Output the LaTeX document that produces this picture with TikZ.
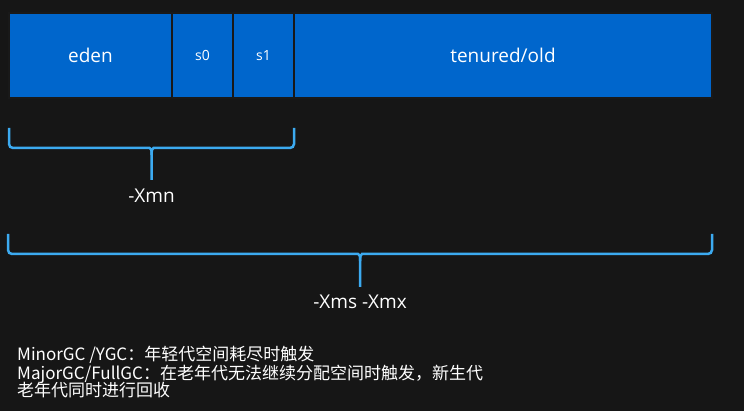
\documentclass[tikz,border=0pt]{standalone}
\usepackage{fontspec}
\setmainfont{Open Sans}
\newfontfamily\cjk{Noto Sans CJK SC}
\definecolor{boardbg}{RGB}{22, 22, 22}
\definecolor{heapblue}{RGB}{0, 102, 204}
\definecolor{braceblue}{RGB}{60, 170, 240}
\usetikzlibrary{positioning, calc}

\begin{document}
\begin{tikzpicture}[
        x=1pt, y=-1pt,
        seg/.style={rectangle, draw=black!90, line width=2pt, fill=heapblue, text=white, minimum height=85pt, inner sep=0pt, outer sep=0pt, font=\fontsize{19}{22}\selectfont},
        brace/.style={braceblue, line width=2.5pt, rounded corners=4pt},
        flaglabel/.style={text=white, inner sep=0pt, font=\fontsize{19}{22}\selectfont}
    ]
        \fill[boardbg] (0,0) rectangle (744,411);
        \useasboundingbox (0,0) rectangle (744,411);

        % heap segments
        \node[seg, minimum width=163pt, anchor=north west] (eden) at (9,13) {eden};
        \node[seg, minimum width=61pt, right=0pt of eden, font=\fontsize{14}{16}\selectfont] (szero) {s0};
        \node[seg, minimum width=61pt, right=0pt of szero, font=\fontsize{14}{16}\selectfont] (sone) {s1};
        \node[seg, minimum width=418pt, right=0pt of sone] (old) {tenured/old};

        % young generation brace
        \coordinate (ybl) at ($(eden.south west)+(0,30)$);
        \coordinate (ybr) at ($(sone.south east)+(0,30)$);
        \coordinate (ybm) at ($(ybl)!0.5!(ybr)+(0,20)$);
        \coordinate (ybt) at ($(ybm)+(0,32)$);
        \draw[brace] (ybl) |- ($(ybm)+(-6,0)$) .. controls ($(ybm)+(-1,0)$) and ($(ybm)+(0,2)$) .. ($(ybm)+(0,7)$) -- (ybt);
        \draw[brace] (ybr) |- ($(ybm)+(6,0)$) .. controls ($(ybm)+(1,0)$) and ($(ybm)+(0,2)$) .. ($(ybm)+(0,7)$);
        \node[flaglabel, below=9pt of ybt] (xmn) {-Xmn};

        % whole heap brace
        \coordinate (hbl) at ($(eden.south west)+(-1,136)$);
        \coordinate (hbr) at ($(old.south east)+(0,136)$);
        \coordinate (hbm) at ($(hbl)!0.5!(hbr)+(0,20)$);
        \coordinate (hbt) at ($(hbm)+(0,33)$);
        \draw[brace] (hbl) |- ($(hbm)+(-6,0)$) .. controls ($(hbm)+(-1,0)$) and ($(hbm)+(0,2)$) .. ($(hbm)+(0,7)$) -- (hbt);
        \draw[brace] (hbr) |- ($(hbm)+(6,0)$) .. controls ($(hbm)+(1,0)$) and ($(hbm)+(0,2)$) .. ($(hbm)+(0,7)$);
        \node[flaglabel, below=8pt of hbt] (xms) {-Xms -Xmx};

        % notes
        \node[text=white, inner sep=0pt, anchor=north west, align=left, font=\cjk\fontsize{17}{18.5}\selectfont] (notes) at (17,346)
            {MinorGC /YGC：年轻代空间耗尽时触发\\
             MajorGC/FullGC：在老年代无法继续分配空间时触发，新生代\\[-1pt]
             老年代同时进行回收};
    \end{tikzpicture}
\end{document}
